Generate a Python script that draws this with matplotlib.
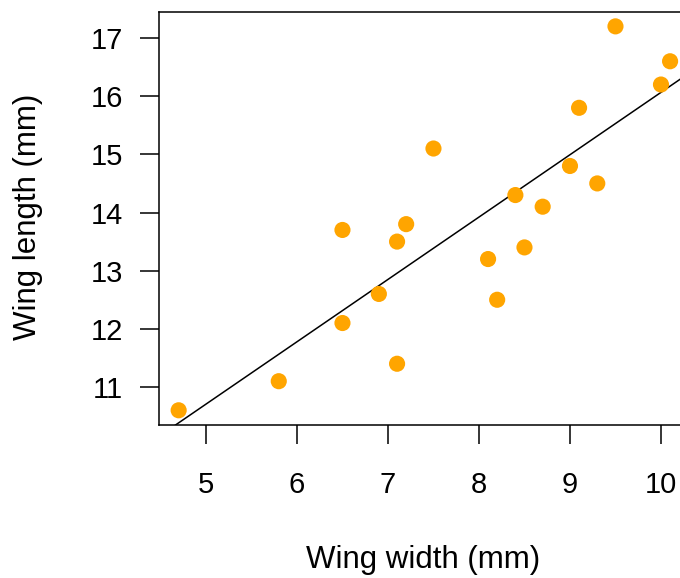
import numpy as np
import matplotlib
matplotlib.use("Agg")
import matplotlib.pyplot as plt

wing_width = [4.7, 5.8, 6.5, 6.5, 6.9, 7.1, 7.1, 7.2, 7.5, 8.1,
              8.2, 8.4, 8.5, 8.7, 9.0, 9.1, 9.3, 9.5, 10.0, 10.1]
wing_length = [10.6, 11.1, 13.7, 12.1, 12.6, 13.5, 11.4, 13.8, 15.1, 13.2,
               12.5, 14.3, 13.4, 14.1, 14.8, 15.8, 14.5, 17.2, 16.2, 16.6]
x_ticks = [5, 6, 7, 8, 9, 10]
y_ticks = [11, 12, 13, 14, 15, 16, 17]

plt.rcParams["font.family"] = ["Liberation Sans", "DejaVu Sans"]

fig = plt.figure(figsize=(6.8, 5.78), dpi=100)
ax = fig.add_axes([159 / 680, 1 - 425 / 578, 1 - 159 / 680, (425 - 12) / 578])

x = np.array(wing_width)
y = np.array(wing_length)
ax.scatter(x, y, s=135, color="#FFA500", edgecolors="none", zorder=3)

slope, intercept = np.polyfit(x, y, 1)
xl = np.array([4.0, 11.0])
ax.plot(xl, intercept + slope * xl, color="black", lw=1.1)

ax.set_xlim(4.484, 10.209)
ax.set_ylim(10.347, 17.447)
ax.set_xticks(x_ticks)
ax.set_yticks(y_ticks)
ax.tick_params(direction="out", length=14, width=1.1, labelsize=21)
ax.tick_params(axis="x", pad=19)
ax.tick_params(axis="y", pad=12)
ax.spines["right"].set_visible(False)
for s in ["left", "top", "bottom"]:
    ax.spines[s].set_linewidth(1.1)

ax.set_xlabel("Wing width (mm)", fontsize=22.5, va="center")
ax.set_ylabel("Wing length (mm)", fontsize=22.5, va="center")
ax.xaxis.set_label_coords(0.507, -0.327)
ax.yaxis.set_label_coords(-0.251, 0.504)

fig.savefig("out.png", dpi=100)
